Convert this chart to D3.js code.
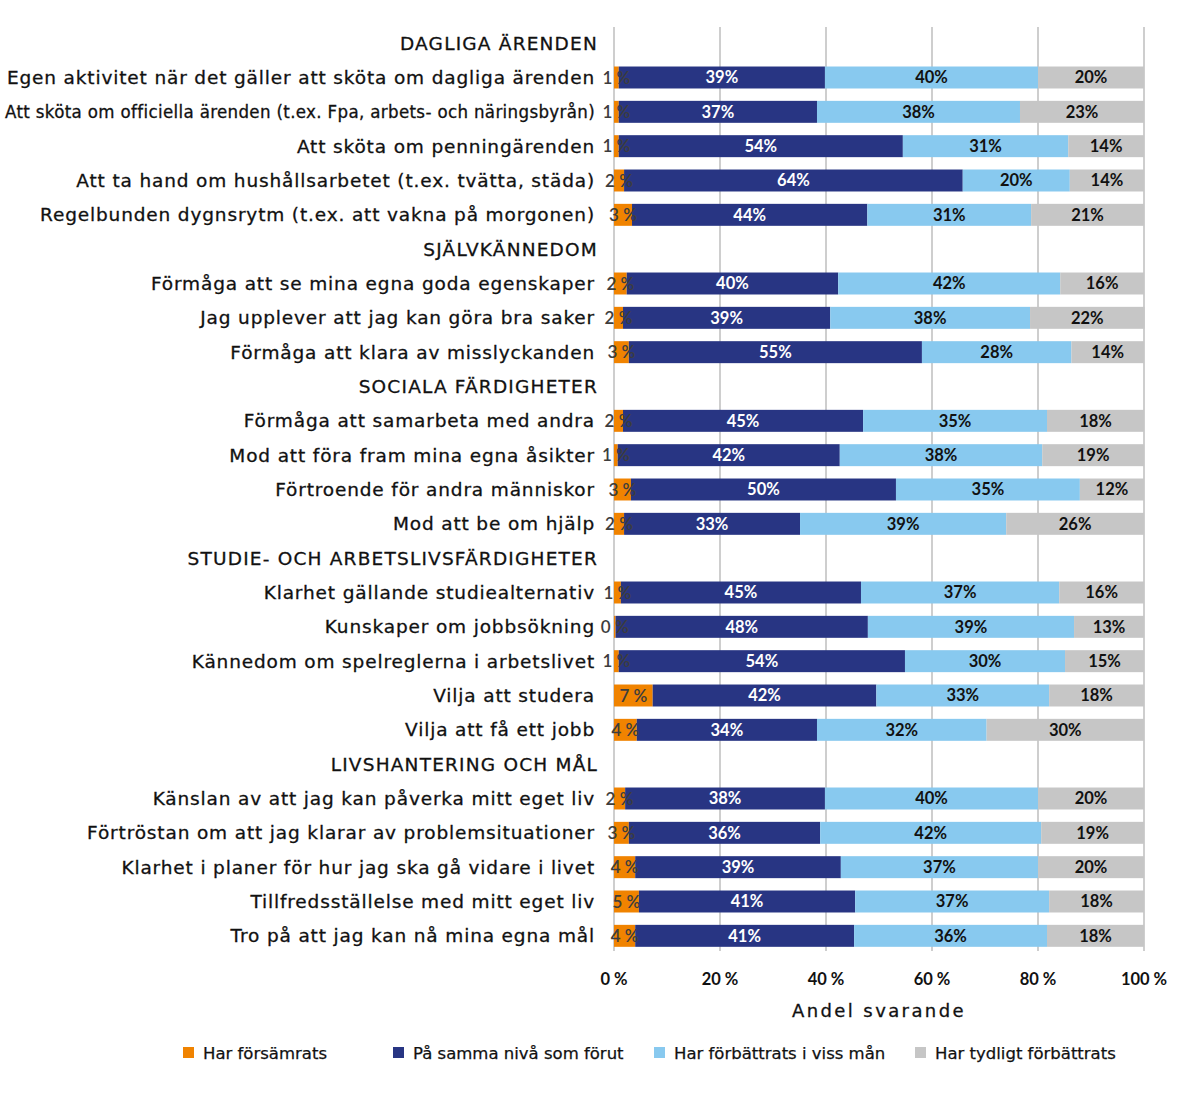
<!DOCTYPE html>
<html><head><meta charset="utf-8">
<script src="https://cdn.jsdelivr.net/npm/d3@7"></script>
<style>body{margin:0;background:#fff}</style>
</head><body>
<svg id="c" width="1198" height="1107"></svg>
<script>
// ---- data ----
const rows = [
 {h:"DAGLIGA ÄRENDEN"},
 "Egen aktivitet när det gäller att sköta om dagliga ärenden",
 "Att sköta om officiella ärenden (t.ex. Fpa, arbets- och näringsbyrån)",
 "Att sköta om penningärenden",
 "Att ta hand om hushållsarbetet (t.ex. tvätta, städa)",
 "Regelbunden dygnsrytm (t.ex. att vakna på morgonen)",
 {h:"SJÄLVKÄNNEDOM"},
 "Förmåga att se mina egna goda egenskaper",
 "Jag upplever att jag kan göra bra saker",
 "Förmåga att klara av misslyckanden",
 {h:"SOCIALA FÄRDIGHETER"},
 "Förmåga att samarbeta med andra",
 "Mod att föra fram mina egna åsikter",
 "Förtroende för andra människor",
 "Mod att be om hjälp",
 {h:"STUDIE- OCH ARBETSLIVSFÄRDIGHETER"},
 "Klarhet gällande studiealternativ",
 "Kunskaper om jobbsökning",
 "Kännedom om spelreglerna i arbetslivet",
 "Vilja att studera",
 "Vilja att få ett jobb",
 {h:"LIVSHANTERING OCH MÅL"},
 "Känslan av att jag kan påverka mitt eget liv",
 "Förtröstan om att jag klarar av problemsituationer",
 "Klarhet i planer för hur jag ska gå vidare i livet",
 "Tillfredsställelse med mitt eget liv",
 "Tro på att jag kan nå mina egna mål"
];
const seriesNames = ["Har försämrats","På samma nivå som förut","Har förbättrats i viss mån","Har tydligt förbättrats"];
const worse   = [0.9,0.9,0.9,1.9,3.4, 2.4,1.7,2.8, 1.7,0.7,3.2,1.9, 1.3,0.3,0.9,7.3,4.3, 2.1,2.8,4.0,4.7,4.0];
const same    = [38.9,37.4,53.6,63.9,44.4, 39.9,39.1,55.3, 45.3,41.9,50.0,33.2, 45.3,47.6,54.0,42.2,34.0, 37.7,36.1,38.8,40.8,41.3];
const some    = [40.2,38.3,31.2,20.2,30.9, 41.9,37.7,28.2, 34.7,38.2,34.7,38.9, 37.4,38.9,30.2,32.6,32.0, 40.2,41.7,37.2,36.6,36.4];
const clearly = [20.0,23.4,14.3,14.0,21.3, 15.8,21.6,13.7, 18.3,19.2,12.1,26.0, 16.0,13.2,14.9,17.9,29.7, 20.0,19.4,20.0,17.9,18.3];
const xTicks = [0,20,40,60,80,100];
const xTickLabels = ["0 %","20 %","40 %","60 %","80 %","100 %"];
const colors = ["#F08300","#283583","#88C9EF","#C6C6C6"];

// ---- build ----
const svg = d3.select("#c");
const keys = rows.map((r,i)=> typeof r === "string" ? "r"+i : "h"+i);
const items = [];
let k = 0;
rows.forEach((r,i)=>{ if(typeof r === "string"){ items.push({key:"r"+i,label:r,vals:[worse[k],same[k],some[k],clearly[k]]}); k++; } });

const x = d3.scaleLinear().domain([0,100]).range([614,1144]);
const y = d3.scaleBand().domain(keys).range([26,953]).paddingInner(0.36).paddingOuter(0.18);

// grid
svg.append("g").selectAll("line").data(xTicks).join("line")
  .attr("x1",d=>x(d)).attr("x2",d=>x(d)).attr("y1",27).attr("y2",951)
  .attr("stroke","#BEBEBE").attr("stroke-width",1.5);

// stacked
const stack = d3.stack().keys([0,1,2,3]).value((d,key)=>d.vals[key]);
const layers = stack(items);
const g = svg.append("g");
layers.forEach((layer,li)=>{
  g.selectAll(null).data(layer).join("rect")
    .attr("x",d=>x(d[0])).attr("width",d=>x(d[1])-x(d[0]))
    .attr("y",d=>y(d.data.key)).attr("height",y.bandwidth())
    .attr("fill",colors[li]);
});
// labels
layers.forEach((layer,li)=>{
  g.selectAll(null).data(layer).join("text")
    .attr("x",d=>(x(d[0])+x(d[1]))/2)
    .attr("y",d=>y(d.data.key)+y.bandwidth()/2)
    .attr("dy","0.36em")
    .attr("text-anchor","middle")
    .attr("font-family","Lato, 'Open Sans', sans-serif")
    .attr("font-size", li===0 ? 17 : 16.5)
    .attr("font-weight", li===0 ? 600 : 700)
    .attr("fill", li===0 ? "#3d3d3d" : (li===1 ? "#ffffff" : "#111"))
    .text(d=>{ const v = Math.round(d.data.vals[li]); return li===0 ? v+" %" : v+"%"; });
});

// category labels
const isItem = d => typeof d.r === "string";
svg.append("g").selectAll("text").data(rows.map((r,i)=>({r,key:keys[i]}))).join("text")
  .attr("x", d=> isItem(d) ? 595 : 598)
  .attr("y", d=> y(d.key)+y.bandwidth()/2)
  .attr("dy","0.36em")
  .attr("text-anchor","end")
  .attr("font-family", d=> (isItem(d) && d.r.length>60) ? "'DejaVu Sans Condensed', 'DejaVu Sans', sans-serif" : "'DejaVu Sans', sans-serif")
  .attr("font-size", 18.5)
  .attr("letter-spacing", d=> isItem(d) ? (d.r.length>60 ? 0.35 : 0.85) : 1.2)
  .attr("fill","#111").attr("stroke","#111").attr("stroke-width",0.3)
  .text(d=> isItem(d) ? d.r : d.r.h);

// x axis labels
svg.append("g").selectAll("text").data(xTicks).join("text")
  .attr("x",d=>x(d)).attr("y",985).attr("text-anchor","middle")
  .attr("font-family","Lato, sans-serif").attr("font-weight",700).attr("font-size",16.5).attr("fill","#111")
  .text((d,i)=>xTickLabels[i]);
svg.append("text").attr("x",(x(0)+x(100))/2).attr("y",1017).attr("text-anchor","middle")
  .attr("font-family","'DejaVu Sans', sans-serif").attr("font-size",18).attr("letter-spacing",2.4).attr("fill","#111")
  .attr("stroke","#111").attr("stroke-width",0.3)
  .text("Andel svarande");

// legend
const legX = [183,393,654,915];
const lg = svg.append("g").selectAll("g").data(seriesNames).join("g")
  .attr("transform",(d,i)=>`translate(${legX[i]},1053)`);
lg.append("rect").attr("x",0).attr("y",-6).attr("width",11).attr("height",11).attr("fill",(d,i)=>colors[i]);
lg.append("text").attr("x",20).attr("y",0).attr("dy","0.36em")
  .attr("font-family","'DejaVu Sans', sans-serif").attr("font-size",16.5).attr("fill","#111")
  .attr("stroke","#111").attr("stroke-width",0.25).text(d=>d);
</script>
</body></html>
